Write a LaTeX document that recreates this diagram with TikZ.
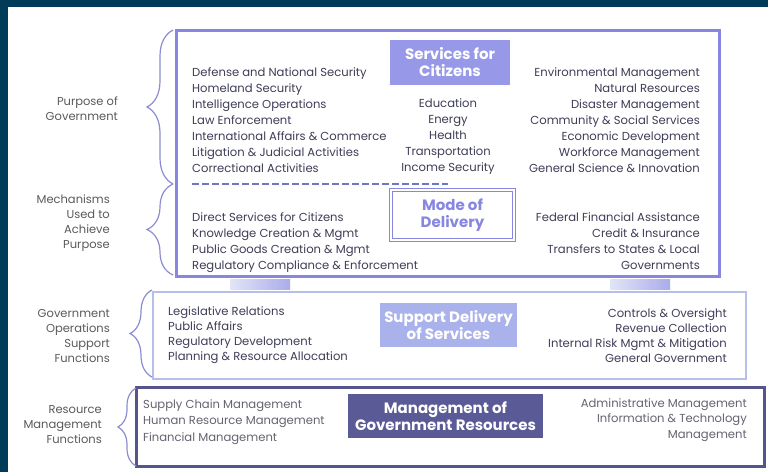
\documentclass[tikz,border=0pt]{standalone}
\usepackage{fontspec}
\setmainfont{Poppins}
\usetikzlibrary{decorations.pathreplacing}
\definecolor{navy}{RGB}{0,59,90}
\definecolor{svcline}{RGB}{135,135,225}
\definecolor{svcfill}{RGB}{152,152,232}
\definecolor{supline}{RGB}{182,190,234}
\definecolor{supfill}{RGB}{170,178,235}
\definecolor{resline}{RGB}{85,85,140}
\definecolor{resfill}{RGB}{90,90,150}
\definecolor{itemtext}{RGB}{62,62,88}
\definecolor{restext}{RGB}{100,100,112}
\definecolor{labeltext}{RGB}{90,90,95}
\definecolor{braceline}{RGB}{140,140,210}
\tikzset{
  item/.style={inner sep=0pt, align=left, text=itemtext,
    font=\fontsize{11.6}{16}\selectfont},
  label/.style={inner sep=0pt, align=right, text=labeltext,
    font=\fontsize{11.5}{15}\selectfont},
  title/.style={inner sep=0pt, align=center, text=white,
    font=\bfseries\fontsize{15}{17}\selectfont},
  tier/.style={draw, fill=white, inner sep=0pt},
  bracket/.style={decorate, draw=braceline, line width=1.2pt},
  pillar/.style={left color=supline!40!white, right color=svcline!70!white}
}
\begin{document}
\begin{tikzpicture}[x=1pt,y=-1pt]
  \useasboundingbox (0,0) rectangle (768,472);
  \fill[navy] (0,0) rectangle (768,472);
  \fill[white] (8,7) rectangle (768,472);

  % tiers
  \node[tier, draw=svcline, line width=3pt, minimum width=543pt, minimum height=246pt]
    (svc) at (447.5,153) {};
  \node[tier, draw=supline, line width=2.5pt, minimum width=593pt, minimum height=87pt]
    (sup) at (449.5,335.5) {};
  \node[tier, draw=resline, line width=3pt, minimum width=628pt, minimum height=79pt]
    (res) at (450,426.5) {};

  % pillars between the two upper tiers
  \coordinate (pl1) at (230,0);
  \coordinate (pl2) at (290,0);
  \coordinate (pr1) at (610,0);
  \coordinate (pr2) at (670,0);
  \fill[pillar] ([yshift=-1.5pt]pl1 |- svc.south) rectangle ([yshift=1.25pt]pl2 |- sup.north);
  \fill[pillar] ([yshift=-1.5pt]pr1 |- svc.south) rectangle ([yshift=1.25pt]pr2 |- sup.north);

  % titles
  \node[title, fill=svcfill, minimum width=120pt, minimum height=45pt]
    (svct) at (450,62.5) {Services for\\Citizens};
  \node[title, text=svcline, draw=svcline, double=white, double distance=1.5pt,
    line width=1pt, minimum width=123pt, minimum height=50pt]
    (modt) at (452.5,215) {Mode of\\Delivery};
  \node[title, fill=supfill, minimum width=137pt, minimum height=44pt]
    (supt) at (448.5,325) {Support Delivery\\of Services};
  \node[title, fill=resfill, minimum width=195pt, minimum height=44pt]
    (rest) at (445.5,416) {Management of\\Government Resources};

  \draw[svcline!80!navy, line width=2pt, dash pattern=on 7pt off 3pt]
    (192,184) coordinate (dl) -- (448,184) coordinate (dr);

  % services for citizens
  \node[item, anchor=north west] (svcL) at (192,67) {Defense and National Security\\
    Homeland Security\\Intelligence Operations\\Law Enforcement\\
    International Affairs \& Commerce\\Litigation \& Judicial Activities\\
    Correctional Activities};
  \node[item, anchor=north, align=center] (svcM) at (448,98) {Education\\Energy\\
    Health\\Transportation\\Income Security};
  \node[item, anchor=north east, align=right] (svcR) at (700,67) {Environmental Management\\
    Natural Resources\\Disaster Management\\Community \& Social Services\\
    Economic Development\\Workforce Management\\General Science \& Innovation};

  % mode of delivery
  \node[item, anchor=north west] (modL) at (192,212) {Direct Services for Citizens\\
    Knowledge Creation \& Mgmt\\Public Goods Creation \& Mgmt\\
    Regulatory Compliance \& Enforcement};
  \node[item, anchor=north east, align=right] (modR) at (700,212) {Federal Financial Assistance\\
    Credit \& Insurance\\Transfers to States \& Local\\Governments};

  % support delivery
  \node[item, anchor=north west, font=\fontsize{11.6}{15.3}\selectfont] (supL) at (168,306)
    {Legislative Relations\\Public Affairs\\Regulatory Development\\
    Planning \& Resource Allocation};
  \node[item, anchor=north east, align=right, font=\fontsize{11.6}{15}\selectfont] (supR) at (727,308)
    {Controls \& Oversight\\Revenue Collection\\Internal Risk Mgmt \& Mitigation\\
    General Government};

  % management of resources
  \node[item, text=restext, anchor=north west, font=\fontsize{11.6}{16.5}\selectfont] (resL) at (143,399)
    {Supply Chain Management\\Human Resource Management\\Financial Management};
  \node[item, text=restext, anchor=north east, align=right, font=\fontsize{11.6}{15.5}\selectfont] (resR) at (747,398)
    {Administrative Management\\Information \& Technology\\Management};

  % braces and their labels
  \draw[bracket, decoration={brace, amplitude=26pt}] (173,184) -- (173,30);
  \draw[bracket, decoration={brace, amplitude=26pt}] (173,275) -- (173,184);
  \draw[bracket, decoration={brace, amplitude=22pt}] (152,377) -- (152,290);
  \draw[bracket, decoration={brace, amplitude=18pt}] (136,466) -- (136,388);

  \node[label, anchor=east] (lpur) at (118,108.5) {Purpose of\\Government};
  \node[label, anchor=east] (lmec) at (110,223) {Mechanisms\\Used to\\Achieve\\Purpose};
  \node[label, anchor=east] (lops) at (110,335.5) {Government\\Operations\\Support\\Functions};
  \node[label, anchor=east] (lres) at (102,424.5) {Resource\\Management\\Functions};
\end{tikzpicture}
\end{document}
